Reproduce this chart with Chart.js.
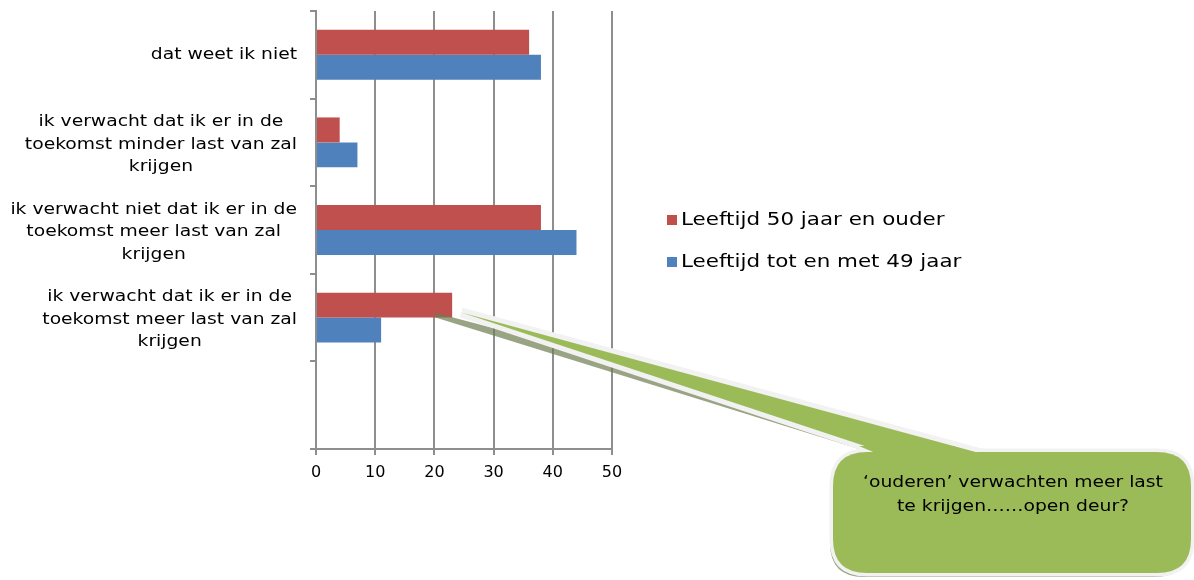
<!DOCTYPE html>
<html>
<head>
<meta charset="utf-8">
<script src="https://cdn.jsdelivr.net/npm/chart.js@4/dist/chart.umd.min.js"></script>
<style>
  html, body { margin: 0; padding: 0; background: #ffffff; }
  #wrap { position: relative; width: 1194px; height: 580px; }
</style>
</head>
<body>
<div id="wrap"><canvas id="c" width="1194" height="580"></canvas></div>
<script>
// ---- data ----
const categories = [
  ["dat weet ik niet"],
  ["ik verwacht dat ik er in de", "toekomst minder last van zal", "krijgen"],
  ["ik verwacht niet dat ik er in de", "toekomst meer last van zal", "krijgen"],
  ["ik verwacht dat ik er in de", "toekomst meer last van zal", "krijgen"],
  [""]
];
const seriesNames = ["Leeftijd 50 jaar en ouder", "Leeftijd tot en met 49 jaar"];
const ouderValues = [36, 4, 38, 23, null];
const jongerValues = [38, 7, 44, 11, null];
const xMin = 0, xMax = 50, xStep = 10;
const calloutLines = ["\u2018ouderen\u2019 verwachten meer last", "te krijgen\u2026\u2026open deur?"];

const FONT = "'DejaVu Sans', Verdana, sans-serif";
const RED = "#C0504D", BLUE = "#4F81BD", GREEN = "#9BBB59";
const GRID = "#8e8e8e";

// draw text widened horizontally (Verdana-like proportions)
function wideText(ctx, t, x, y, sx) {
  ctx.save();
  ctx.translate(x, y);
  ctx.scale(sx, 1);
  ctx.fillText(t, 0, 0);
  ctx.restore();
}

// custom category labels: each block right-aligned, lines centred within the block
const yLabelPlugin = {
  id: 'yLabels',
  afterDraw(chart) {
    const ctx = chart.ctx, y = chart.scales.y;
    const sx = 1.17;
    ctx.save();
    ctx.font = "16px " + FONT;
    ctx.fillStyle = "#000";
    ctx.textAlign = "center";
    ctx.textBaseline = "middle";
    const right = chart.chartArea.left - 19;
    const lh = 22.5;
    chart.data.labels.forEach((lines, i) => {
      const arr = Array.isArray(lines) ? lines : [lines];
      let w = 0;
      arr.forEach(t => { w = Math.max(w, ctx.measureText(t).width * sx); });
      const cx = right - w / 2;
      const cy = y.getPixelForValue(i) + (arr.length > 1 ? 2 : 0);
      const top = cy - (arr.length - 1) * lh / 2;
      arr.forEach((t, k) => wideText(ctx, t, cx, top + k * lh, sx));
    });
    ctx.restore();
  }
};

// legend drawn to match the reference
const legendPlugin = {
  id: 'sideLegend',
  afterDraw(chart) {
    const ctx = chart.ctx;
    ctx.save();
    ctx.font = "18px " + FONT;
    ctx.textBaseline = "middle";
    ctx.textAlign = "left";
    chart.data.datasets.forEach((ds, i) => {
      const yy = 220 + i * 42;
      ctx.fillStyle = ds.backgroundColor;
      ctx.fillRect(667, yy - 5, 10, 10);
      ctx.fillStyle = "#000";
      wideText(ctx, ds.label, 681, yy, 1.19);
    });
    ctx.restore();
  }
};

function roundRectPath(ctx, x, y, w, h, r) {
  ctx.beginPath();
  ctx.moveTo(x + r, y);
  ctx.lineTo(x + w - r, y);
  ctx.quadraticCurveTo(x + w, y, x + w, y + r);
  ctx.lineTo(x + w, y + h - r);
  ctx.quadraticCurveTo(x + w, y + h, x + w - r, y + h);
  ctx.lineTo(x + r, y + h);
  ctx.quadraticCurveTo(x, y + h, x, y + h - r);
  ctx.lineTo(x, y + r);
  ctx.quadraticCurveTo(x, y, x + r, y);
  ctx.closePath();
}

// callout annotation pointing at the "meer last" bar of the older group
const calloutPlugin = {
  id: 'callout',
  afterDraw(chart) {
    const ctx = chart.ctx;
    const xs = chart.scales.x, ys = chart.scales.y;
    const tipX = xs.getPixelForValue(20) + 1;
    const tipY = ys.getPixelForValue(3) - 6;
    const bx = 833, by = 452, bw = 358, bh = 121, r = 34;
    const pts = [[tipX, tipY], [889, by + 2], [983, by + 2]];
    ctx.save();
    // shadows
    ctx.fillStyle = "rgba(110,125,80,0.7)";
    ctx.beginPath();
    ctx.moveTo(pts[0][0] - 1, pts[0][1] + 1);
    ctx.lineTo(pts[0][0], pts[0][1] + 6);
    ctx.lineTo(pts[1][0] - 4, pts[1][1] + 3);
    ctx.lineTo(pts[2][0] - 4, pts[2][1] + 3);
    ctx.closePath();
    ctx.fill();
    roundRectPath(ctx, bx - 3, by + 4, bw, bh, r);
    ctx.fill();
    // box border
    ctx.lineWidth = 7;
    ctx.strokeStyle = "#f2f2f2";
    ctx.lineJoin = "round";
    roundRectPath(ctx, bx, by, bw, bh, r);
    ctx.stroke();
    // pointer
    ctx.beginPath();
    ctx.moveTo(pts[0][0] + 26, pts[0][1] + 1);
    ctx.lineTo(pts[1][0], pts[1][1]);
    ctx.lineTo(pts[2][0], pts[2][1]);
    ctx.closePath();
    ctx.lineJoin = "miter";
    ctx.lineWidth = 10;
    ctx.stroke();
    ctx.fillStyle = GREEN;
    ctx.fill();
    roundRectPath(ctx, bx, by, bw, bh, r);
    ctx.fill();
    // cover the join between pointer and box
    ctx.beginPath();
    ctx.moveTo(pts[1][0] - 4, by + 5);
    ctx.lineTo(pts[1][0] - 30, pts[1][1] - 8);
    ctx.lineTo(pts[2][0] - 30, pts[2][1] - 8);
    ctx.lineTo(pts[2][0] + 2, by + 5);
    ctx.closePath();
    ctx.fill();
    // text
    ctx.fillStyle = "#000";
    ctx.font = "16px " + FONT;
    ctx.textAlign = "center";
    ctx.textBaseline = "middle";
    calloutLines.forEach((t, k) => wideText(ctx, t, 1013, 483 + k * 24, 1.17));
    ctx.restore();
  }
};

new Chart(document.getElementById('c'), {
  type: 'bar',
  data: {
    labels: categories,
    datasets: [
      { label: seriesNames[0], data: ouderValues, backgroundColor: RED, borderWidth: 0 },
      { label: seriesNames[1], data: jongerValues, backgroundColor: BLUE, borderWidth: 0 }
    ]
  },
  options: {
    indexAxis: 'y',
    responsive: false,
    animation: false,
    maintainAspectRatio: false,
    categoryPercentage: 0.57,
    barPercentage: 1.0,
    layout: { padding: { top: 11, right: 582, bottom: 101, left: 0 } },
    plugins: { legend: { display: false }, tooltip: { enabled: false } },
    scales: {
      x: {
        min: xMin, max: xMax,
        afterFit(s) { s.height = 30; },
        ticks: { stepSize: xStep, color: "#000", font: { family: FONT, size: 16 }, padding: 8 },
        grid: { color: GRID, lineWidth: 2, tickLength: 6, drawOnChartArea: true },
        border: { color: GRID, width: 2 }
      },
      y: {
        afterFit(s) { s.width = 316; },
        offset: true,
        ticks: { display: false },
        grid: { offset: true, drawOnChartArea: false, color: GRID, lineWidth: 2, tickLength: 6 },
        border: { color: GRID, width: 2 }
      }
    }
  },
  plugins: [yLabelPlugin, legendPlugin, calloutPlugin]
});
</script>
</body>
</html>
